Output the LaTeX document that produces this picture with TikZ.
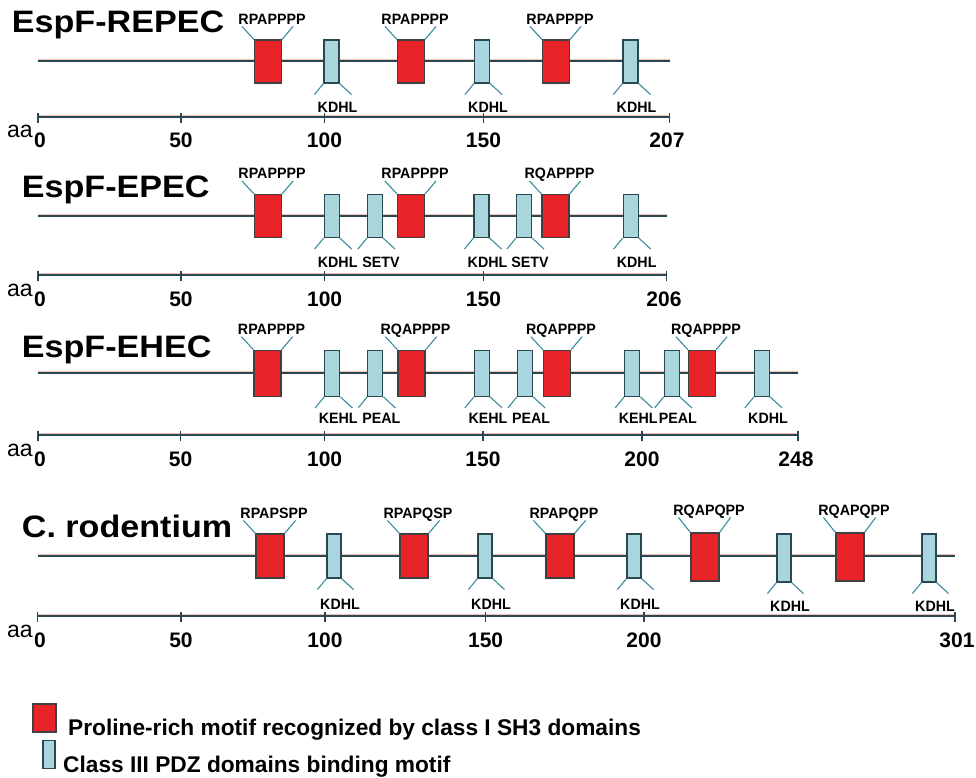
\documentclass[tikz,border=0pt]{standalone}
\usepackage{fontspec}
\setmainfont{Liberation Sans}
\definecolor{sh3red}{RGB}{232,36,40}
\definecolor{pdzblue}{RGB}{168,214,220}
\definecolor{trackcol}{RGB}{40,72,82}
\definecolor{halocol}{RGB}{246,190,175}
\definecolor{leadcol}{RGB}{60,140,158}
\tikzset{
  track/.style={line width=1.7pt, draw=trackcol, preaction={draw=halocol, line width=1pt, transform canvas={yshift=1.4pt}}},
  sh3/.style={draw=black!75, line width=1.2pt, fill=sh3red, minimum width=27pt, minimum height=43pt, inner sep=0pt},
  pdz/.style={draw=trackcol, line width=1.2pt, fill=pdzblue, minimum width=15pt, minimum height=43pt, inner sep=0pt},
  leader/.style={draw=leadcol, line width=1.1pt},
  motif/.style={font=\fontsize{15}{15}\selectfont\bfseries, inner sep=0pt, anchor=base, xscale=0.95},
  species/.style={font=\fontsize{31}{31}\selectfont\bfseries, inner sep=0pt, anchor=base west, xscale=1.1},
  ticknum/.style={font=\fontsize{21}{21}\selectfont\bfseries, inner sep=0pt, anchor=base},
  aalab/.style={font=\fontsize{23}{23}\selectfont, inner sep=0pt, anchor=base west},
  legtext/.style={font=\fontsize{22.7}{23}\selectfont\bfseries, inner sep=0pt, anchor=base west},
  tick/.style={line width=1.2pt, draw=trackcol}
}
\begin{document}
\begin{tikzpicture}[x=1pt,y=-1pt]
\useasboundingbox[fill=white] (0,0) rectangle (976,778);

% EspF-REPEC
\node[species] (t1) at (11.7,33) {EspF-REPEC};
\draw[track] (38,61) -- (670,61);
\node[sh3] (r1a) at (268,61.5) {} node[motif] (r1a-t) at ([xshift=4pt,yshift=15pt]r1a.north) {RPAPPPP};
\draw[leader] (r1a.north west) -- ++(-12,-13) (r1a.north east) -- ++(11,-13);
\node[sh3] (r1b) at (411,61.5) {} node[motif] (r1b-t) at ([xshift=4pt,yshift=15pt]r1b.north) {RPAPPPP};
\draw[leader] (r1b.north west) -- ++(-12,-13) (r1b.north east) -- ++(11,-13);
\node[sh3] (r1c) at (556,61.5) {} node[motif] (r1c-t) at ([xshift=4pt,yshift=15pt]r1c.north) {RPAPPPP};
\draw[leader] (r1c.north west) -- ++(-12,-13) (r1c.north east) -- ++(11,-13);
\node[pdz] (p1a) at (331.5,61.5) {} node[motif] (p1a-t) at ([xshift=6pt,yshift=-29pt]p1a.south) {KDHL};
\draw[leader] (p1a.south west) -- ++(-9,11) (p1a.south east) -- ++(12,11);
\node[pdz] (p1b) at (482,61.5) {} node[motif] (p1b-t) at ([xshift=6pt,yshift=-29pt]p1b.south) {KDHL};
\draw[leader] (p1b.south west) -- ++(-9,11) (p1b.south east) -- ++(12,11);
\node[pdz] (p1c) at (630.5,61.5) {} node[motif] (p1c-t) at ([xshift=6pt,yshift=-29pt]p1c.south) {KDHL};
\draw[leader] (p1c.south west) -- ++(-9,11) (p1c.south east) -- ++(12,11);
\node[aalab] (aa1) at (7,138) {aa};
\draw[track] (38,117) -- (669.5,117);
\draw[tick] (38,113) -- ++(0,10) (181,113) -- ++(0,10) (324.5,113) -- ++(0,10) (483.5,113) -- ++(0,10) (669.5,113) -- ++(0,10);
\node[ticknum] (n1a) at (40,148) {0}; \node[ticknum] (n1b) at (181,148) {50}; \node[ticknum] (n1c) at (324.5,148) {100};
\node[ticknum] (n1d) at (483.5,148) {150}; \node[ticknum] (n1e) at (667,148) {207};

% EspF-EPEC
\node[species] (t2) at (21.7,197) {EspF-EPEC};
\draw[track] (38,216) -- (667,216);
\node[sh3] (r2a) at (268,216) {} node[motif] (r2a-t) at ([xshift=4pt,yshift=15pt]r2a.north) {RPAPPPP};
\draw[leader] (r2a.north west) -- ++(-12,-13) (r2a.north east) -- ++(11,-13);
\node[sh3] (r2b) at (411,216) {} node[motif] (r2b-t) at ([xshift=4pt,yshift=15pt]r2b.north) {RPAPPPP};
\draw[leader] (r2b.north west) -- ++(-12,-13) (r2b.north east) -- ++(11,-13);
\node[sh3] (r2c) at (555.5,216) {} node[motif] (r2c-t) at ([xshift=4pt,yshift=15pt]r2c.north) {RQAPPPP};
\draw[leader] (r2c.north west) -- ++(-12,-13) (r2c.north east) -- ++(11,-13);
\node[pdz] (p2a) at (331.7,216) {} node[motif] (p2a-t) at ([xshift=6pt,yshift=-29pt]p2a.south) {KDHL};
\draw[leader] (p2a.south west) -- ++(-9,11) (p2a.south east) -- ++(12,11);
\node[pdz] (p2b) at (375,216) {} node[motif] (p2b-t) at ([xshift=6pt,yshift=-29pt]p2b.south) {SETV};
\draw[leader] (p2b.south west) -- ++(-9,11) (p2b.south east) -- ++(12,11);
\node[pdz] (p2c) at (481.5,216) {} node[motif] (p2c-t) at ([xshift=6pt,yshift=-29pt]p2c.south) {KDHL};
\draw[leader] (p2c.south west) -- ++(-9,11) (p2c.south east) -- ++(12,11);
\node[pdz] (p2d) at (524,216) {} node[motif] (p2d-t) at ([xshift=6pt,yshift=-29pt]p2d.south) {SETV};
\draw[leader] (p2d.south west) -- ++(-9,11) (p2d.south east) -- ++(12,11);
\node[pdz] (p2e) at (630.7,216) {} node[motif] (p2e-t) at ([xshift=6pt,yshift=-29pt]p2e.south) {KDHL};
\draw[leader] (p2e.south west) -- ++(-9,11) (p2e.south east) -- ++(12,11);
\node[aalab] (aa2) at (7,296) {aa};
\draw[track] (38,275) -- (666.5,275);
\draw[tick] (38,271) -- ++(0,10) (181,271) -- ++(0,10) (324.6,271) -- ++(0,10) (483.5,271) -- ++(0,10) (666.5,271) -- ++(0,10);
\node[ticknum] (n2a) at (40,306) {0}; \node[ticknum] (n2b) at (181,306) {50}; \node[ticknum] (n2c) at (324.6,306) {100};
\node[ticknum] (n2d) at (483.5,306) {150}; \node[ticknum] (n2e) at (664,306) {206};

% EspF-EHEC
\node[species] (t3) at (21.7,357) {EspF-EHEC};
\draw[track] (38,373) -- (798,373);
\node[sh3,minimum height=46pt] (r3a) at (267.5,373.3) {} node[motif] (r3a-t) at ([xshift=4pt,yshift=15pt]r3a.north) {RPAPPPP};
\draw[leader] (r3a.north west) -- ++(-12,-13) (r3a.north east) -- ++(11,-13);
\node[sh3,minimum height=46pt] (r3b) at (411.5,373.3) {} node[motif] (r3b-t) at ([xshift=4pt,yshift=15pt]r3b.north) {RQAPPPP};
\draw[leader] (r3b.north west) -- ++(-12,-13) (r3b.north east) -- ++(11,-13);
\node[sh3,minimum height=46pt] (r3c) at (557,373.3) {} node[motif] (r3c-t) at ([xshift=4pt,yshift=15pt]r3c.north) {RQAPPPP};
\draw[leader] (r3c.north west) -- ++(-12,-13) (r3c.north east) -- ++(11,-13);
\node[sh3,minimum height=46pt] (r3d) at (702,373.3) {} node[motif] (r3d-t) at ([xshift=4pt,yshift=15pt]r3d.north) {RQAPPPP};
\draw[leader] (r3d.north west) -- ++(-12,-13) (r3d.north east) -- ++(11,-13);
\node[pdz,minimum height=46pt] (p3a) at (332.3,373.3) {} node[motif] (p3a-t) at ([xshift=6pt,yshift=-27pt]p3a.south) {KEHL};
\draw[leader] (p3a.south west) -- ++(-9,11) (p3a.south east) -- ++(12,11);
\node[pdz,minimum height=46pt] (p3b) at (375.3,373.3) {} node[motif] (p3b-t) at ([xshift=6pt,yshift=-27pt]p3b.south) {PEAL};
\draw[leader] (p3b.south west) -- ++(-9,11) (p3b.south east) -- ++(12,11);
\node[pdz,minimum height=46pt] (p3c) at (482,373.3) {} node[motif] (p3c-t) at ([xshift=6pt,yshift=-27pt]p3c.south) {KEHL};
\draw[leader] (p3c.south west) -- ++(-9,11) (p3c.south east) -- ++(12,11);
\node[pdz,minimum height=46pt] (p3d) at (525,373.3) {} node[motif] (p3d-t) at ([xshift=6pt,yshift=-27pt]p3d.south) {PEAL};
\draw[leader] (p3d.south west) -- ++(-9,11) (p3d.south east) -- ++(12,11);
\node[pdz,minimum height=46pt] (p3e) at (632.3,373.3) {} node[motif] (p3e-t) at ([xshift=6pt,yshift=-27pt]p3e.south) {KEHL};
\draw[leader] (p3e.south west) -- ++(-9,11) (p3e.south east) -- ++(12,11);
\node[pdz,minimum height=46pt] (p3f) at (671.8,373.3) {} node[motif] (p3f-t) at ([xshift=6pt,yshift=-27pt]p3f.south) {PEAL};
\draw[leader] (p3f.south west) -- ++(-9,11) (p3f.south east) -- ++(12,11);
\node[pdz,minimum height=46pt] (p3g) at (762,373.3) {} node[motif] (p3g-t) at ([xshift=6pt,yshift=-27pt]p3g.south) {KDHL};
\draw[leader] (p3g.south west) -- ++(-9,11) (p3g.south east) -- ++(12,11);
\node[aalab] (aa3) at (7,456) {aa};
\draw[track] (38,435) -- (798,435);
\draw[tick] (38,431) -- ++(0,10) (180.6,431) -- ++(0,10) (324.6,431) -- ++(0,10) (483,431) -- ++(0,10) (642,431) -- ++(0,10) (798,431) -- ++(0,10);
\node[ticknum] (n3a) at (40,466) {0}; \node[ticknum] (n3b) at (180.6,466) {50}; \node[ticknum] (n3c) at (324.6,466) {100};
\node[ticknum] (n3d) at (483,466) {150}; \node[ticknum] (n3e) at (642,466) {200}; \node[ticknum] (n3f) at (796,466) {248};

% C. rodentium
\node[species] (t4) at (21.7,537) {C. rodentium};
\draw[track] (37.5,556) -- (955,556);
\node[sh3,minimum width=28pt,minimum height=44pt] (r4a) at (270,556) {} node[motif] (r4a-t) at ([xshift=4pt,yshift=15pt]r4a.north) {RPAPSPP};
\draw[leader] (r4a.north west) -- ++(-12,-13) (r4a.north east) -- ++(11,-13);
\node[sh3,minimum width=28pt,minimum height=44pt] (r4b) at (414,556) {} node[motif] (r4b-t) at ([xshift=4pt,yshift=15pt]r4b.north) {RPAPQSP};
\draw[leader] (r4b.north west) -- ++(-12,-13) (r4b.north east) -- ++(11,-13);
\node[sh3,minimum width=28pt,minimum height=44pt] (r4c) at (560,556) {} node[motif] (r4c-t) at ([xshift=4pt,yshift=15pt]r4c.north) {RPAPQPP};
\draw[leader] (r4c.north west) -- ++(-12,-13) (r4c.north east) -- ++(11,-13);
\node[sh3,minimum width=28pt,minimum height=48pt] (r4d) at (705,557) {} node[motif] (r4d-t) at ([xshift=4pt,yshift=17pt]r4d.north) {RQAPQPP};
\draw[leader] (r4d.north west) -- ++(-12,-15) (r4d.north east) -- ++(11,-15);
\node[sh3,minimum width=28pt,minimum height=48pt] (r4e) at (850,557) {} node[motif] (r4e-t) at ([xshift=4pt,yshift=17pt]r4e.north) {RQAPQPP};
\draw[leader] (r4e.north west) -- ++(-12,-15) (r4e.north east) -- ++(11,-15);
\node[pdz,minimum width=14pt,minimum height=44pt] (p4a) at (334,556) {} node[motif] (p4a-t) at ([xshift=6pt,yshift=-31pt]p4a.south) {KDHL};
\draw[leader] (p4a.south west) -- ++(-9,11) (p4a.south east) -- ++(12,11);
\node[pdz,minimum width=14pt,minimum height=44pt] (p4b) at (485,556) {} node[motif] (p4b-t) at ([xshift=6pt,yshift=-31pt]p4b.south) {KDHL};
\draw[leader] (p4b.south west) -- ++(-9,11) (p4b.south east) -- ++(12,11);
\node[pdz,minimum width=14pt,minimum height=44pt] (p4c) at (634,556) {} node[motif] (p4c-t) at ([xshift=6pt,yshift=-31pt]p4c.south) {KDHL};
\draw[leader] (p4c.south west) -- ++(-9,11) (p4c.south east) -- ++(12,11);
\node[pdz,minimum width=14pt,minimum height=48pt] (p4d) at (784,558) {} node[motif] (p4d-t) at ([xshift=6pt,yshift=-29pt]p4d.south) {KDHL};
\draw[leader] (p4d.south west) -- ++(-9,11) (p4d.south east) -- ++(12,11);
\node[pdz,minimum width=14pt,minimum height=48pt] (p4e) at (929,558) {} node[motif] (p4e-t) at ([xshift=6pt,yshift=-29pt]p4e.south) {KDHL};
\draw[leader] (p4e.south west) -- ++(-9,11) (p4e.south east) -- ++(12,11);
\node[aalab] (aa4) at (7,637) {aa};
\draw[track] (37.5,616) -- (955,616);
\draw[tick] (37.5,612) -- ++(0,10) (181,612) -- ++(0,10) (325,612) -- ++(0,10) (485.6,612) -- ++(0,10) (644,612) -- ++(0,10) (955,612) -- ++(0,10);
\node[ticknum] (n4a) at (40,647) {0}; \node[ticknum] (n4b) at (181,647) {50}; \node[ticknum] (n4c) at (325,647) {100};
\node[ticknum] (n4d) at (485.6,647) {150}; \node[ticknum] (n4e) at (644,647) {200}; \node[ticknum] (n4f) at (957,647) {301};

% legend
\node[sh3,minimum width=23pt,minimum height=28pt] (legsh3) at (44.5,718) {};
\node[legtext] (legsh3-t) at (68,735) {Proline-rich motif recognized by class I SH3 domains};
\node[pdz,minimum width=12pt,minimum height=27.5pt] (legpdz) at (49,754.5) {};
\node[legtext] (legpdz-t) at (63,772) {Class III PDZ domains binding motif};
\end{tikzpicture}
\end{document}
